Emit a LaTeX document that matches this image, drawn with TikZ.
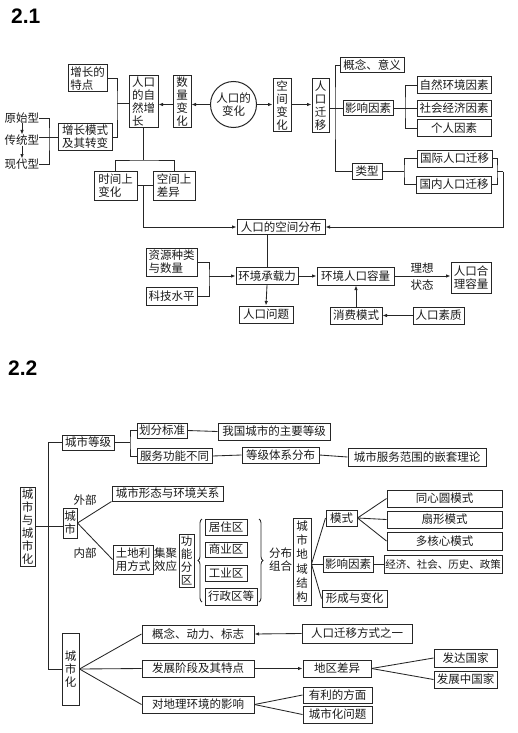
\documentclass[tikz,border=0pt]{standalone}
\usepackage{fontspec}
\newfontfamily\cjk{Noto Sans CJK SC}
\newfontfamily\titlef{Liberation Sans}
\usetikzlibrary{arrows.meta,decorations.pathreplacing,calc}
\tikzset{
  txt/.style={font=\cjk\fontsize{11.5}{13}\selectfont, inner sep=0pt, align=center, text=black!90},
  bx/.style={txt, draw=black!85, line width=1pt},
  b/.style 2 args={bx, minimum width=#1pt, minimum height=#2pt},
  vtw/.style={font=\cjk\fontsize{11.5}{14.3}\selectfont},
  ln/.style={draw=black!85, line width=0.85pt},
  arr/.style={ln, -{Latex[length=4.5pt,width=3.5pt]}},
  ttl/.style={font=\titlef\bfseries\fontsize{21}{23}\selectfont, inner sep=0pt, anchor=west},
  brc/.style={ln, decorate, decoration={brace, amplitude=4pt}}
}
\begin{document}
\begin{tikzpicture}[x=1pt,y=-1pt]
\useasboundingbox (0,0) rectangle (517,733);
% ================= 2.1 =================
\node[ttl] (t1) at (11,16) {2.1};
\node[txt] (ysx) at (22,118) {原始型};
\node[txt] (ctx) at (22,140) {传统型};
\node[txt] (xdx) at (22,164) {现代型};
\node[b={39}{27}, align=left] (zzd) at (87.5,78.5) {增长的\\特点};
\node[b={54}{27}, align=left] (zzms) at (85,137) {增长模式\\及其转变};
\node[b={29}{52}, align=left] (zrzz) at (143.5,102) {人口\\的自\\然增\\长};
\node[b={18}{52}] (slbh) at (182,102) {数\\量\\变\\化};
\node[bx, circle, minimum size=46pt] (circ) at (233.5,104.5) {人口的\\变化};
\node[b={18}{53}] (kjbh) at (282,105.5) {空\\间\\变\\化};
\node[b={17}{54}] (rkqy) at (320.5,106) {人\\口\\迁\\移};
\node[b={64}{15}] (gnyy) at (372,65.5) {概念、意义};
\node[b={50}{15}] (yxys) at (368,108.5) {影响因素};
\node[b={74}{17}] (zrhj) at (454,85.5) {自然环境因素};
\node[b={74}{16}] (shjj) at (454,108.5) {社会经济因素};
\node[b={74}{16}] (grys) at (454,128) {个人因素};
\node[b={30}{16}] (lx) at (367,171) {类型};
\node[b={75}{17}] (gjqy) at (454.5,158.5) {国际人口迁移};
\node[b={75}{17}] (gnqy) at (454,184.5) {国内人口迁移};
\node[b={43}{29}, align=left] (sjbh) at (115.5,185.5) {时间上\\变化};
\node[b={42}{29}, align=left] (kjcy) at (174,185.5) {空间上\\差异};
\node[b={88}{15}] (kjfb) at (281,227) {人口的空间分布};
\node[b={62}{17}] (hjcz) at (267,276) {环境承载力};
\node[b={51}{28}, align=left] (zyzl) at (171.5,262) {资源种类\\与数量};
\node[b={51}{18}] (kjsp) at (171.5,296) {科技水平};
\node[b={54}{17}] (rkwt) at (266,314.5) {人口问题};
\node[b={77}{18}] (hjrk) at (355.5,276) {环境人口容量};
\node[b={40}{31}, align=left] (hlrl) at (471,277.5) {人口合\\理容量};
\node[b={52}{17}] (xfms) at (356,315.5) {消费模式};
\node[b={51}{17}] (rksz) at (438.5,315.5) {人口素质};
\node[txt] (lxa) at (422,268) {理想};
\node[txt] (lxb) at (422,285) {状态};
% connectors 2.1
\draw[arr] (ysx.south) -- (ctx.north);
\draw[arr] (ctx.south) -- (xdx.north);
\coordinate (b1) at (49,137);
\draw[ln] (ysx.east) -| (b1) |- (xdx.east);
\draw[ln] (ctx.east |- b1) -- (zzms.west);
\coordinate (j1) at (117,103);
\draw[ln] (zzd.east) -| (j1) |- (zzms.east);
\draw[ln] (j1) -- (j1 -| zrzz.west);
\draw[arr] (circ.west) -- (circ.west -| slbh.east);
\draw[arr] (slbh.west |- circ.west) -- (zrzz.east |- circ.west);
\draw[arr] (circ.east) -- (circ.east -| kjbh.west);
\draw[arr] (kjbh.east |- circ.east) -- (rkqy.west |- circ.east);
\coordinate (j2) at (335,108.5);
\draw[ln] (rkqy.east |- yxys.west) -- (yxys.west);
\draw[ln] (gnyy.west) -| (j2) |- (lx.west);
\coordinate (j3) at (405,108.5);
\draw[ln] (zrhj.west) -| (j3) |- (grys.west);
\draw[ln] (yxys.east) -- (shjj.west);
\coordinate (j4) at (404,171);
\draw[ln] (lx.east) -- (j4);
\draw[ln] (gjqy.west) -| (j4) |- (gnqy.west);
\coordinate (j5) at (497,171.5);
\draw[ln] (gjqy.east) -| (j5) |- (gnqy.east);
\coordinate (j5b) at (503,171.5);
\draw[ln] (j5) -- (j5b);
\draw[arr] (j5b) |- (kjfb.east);
\coordinate (j6) at (143.5,160);
\draw[ln] (zrzz.south) -- (j6);
\draw[ln] (sjbh.north) |- (j6) -| (kjcy.north);
\draw[ln] (sjbh.east) -- (kjcy.west);
\draw[arr] (sjbh.east -| j6) |- (kjfb.west);
\draw[ln] (kjfb.south -| hjcz.north) -- (hjcz.north);
\coordinate (j7) at (209,276);
\draw[ln] (zyzl.east) -| (j7) |- (kjsp.east);
\draw[arr] (j7) -- (hjcz.west);
\draw[arr] (hjcz.south) -- (rkwt.north);
\draw[arr] (hjcz.east) -- (hjrk.west);
\draw[arr] (hjrk.east) -- (hlrl.west |- hjrk.east);
\draw[arr] (xfms.north) -- (xfms.north |- hjrk.south);
\draw[arr] (rksz.west) -- (xfms.east);
% ================= 2.2 =================
\node[ttl] (t2) at (8,368.5) {2.2};
\node[b={15}{79}] (cyc) at (27.5,526.5) {城\\市\\与\\城\\市\\化};
\node[b={52}{15}] (csdj) at (88,442.5) {城市等级};
\node[b={50}{15}] (hfbz) at (162,430.5) {划分标准};
\node[b={75}{15}] (fwgn) at (174.5,456) {服务功能不同};
\node[b={112}{17}] (wgcs) at (274,431.5) {我国城市的主要等级};
\node[b={77}{16}] (djtx) at (280.5,455) {等级体系分布};
\node[b={138}{18}] (qtll) at (417,457) {城市服务范围的嵌套理论};
\node[b={14}{30}] (cs) at (70,523) {城\\市};
\node[b={111}{15}] (csxt) at (167.5,493.5) {城市形态与环境关系};
\node[txt] (wb) at (85,500) {外部};
\node[txt] (nb) at (85,553) {内部};
\node[b={40}{29}] (tdly) at (133,559.5) {土地利\\用方式};
\node[txt] (jjxy) at (165.5,560) {集聚\\效应};
\node[b={15}{53}] (gnfq) at (186.5,560.5) {功\\能\\分\\区};
\node[b={42}{16}] (jzq) at (226,527) {居住区};
\node[b={42}{15}] (syq) at (226,549.5) {商业区};
\node[b={42}{16}] (gyq) at (226,573) {工业区};
\node[b={52}{17}] (xzq) at (231,596.5) {行政区等};
\node[txt] (fbzh) at (280.5,560) {分布\\组合};
\node[b={18}{87}, vtw] (dyjg) at (302,561.5) {城\\市\\地\\域\\结\\构};
\node[b={31}{16}] (ms) at (341.5,518) {模式};
\node[b={115}{17}] (txy) at (444.5,498.5) {同心圆模式};
\node[b={115}{17}] (sx) at (444.5,519.5) {扇形模式};
\node[b={115}{18}] (dhx) at (444.5,541) {多核心模式};
\node[b={50}{16}] (yxb) at (348,564) {影响因素};
\node[b={118}{18}, font=\cjk\fontsize{10.5}{12}\selectfont] (jjsh) at (443,564) {经济、社会、历史、政策};
\node[b={65}{17}] (xcbh) at (354.5,598.5) {形成与变化};
\node[b={17}{72}] (csh) at (70.5,669) {城\\市\\化};
\node[b={112}{18}] (gndl) at (198,634) {概念、动力、标志};
\node[b={112}{17}] (fzjd) at (198,668.5) {发展阶段及其特点};
\node[b={112}{17}] (dlhj) at (198,704.5) {对地理环境的影响};
\node[b={110}{19}] (rkfs) at (357,633.5) {人口迁移方式之一};
\node[b={68}{17}] (dqcy) at (337,668.5) {地区差异};
\node[b={63}{18}] (fdgj) at (465.5,658) {发达国家};
\node[b={63}{17}] (fzzg) at (465.5,679.5) {发展中国家};
\node[b={69}{16}] (ylfm) at (337.5,695) {有利的方面};
\node[b={69}{17}] (cshw) at (337.5,714.5) {城市化问题};
% connectors 2.2
\coordinate (k1) at (48,442.5);
\draw[ln] (csdj.west) -- (k1) |- (csh.west);
\draw[ln] (cyc.east) -- (cyc.east -| cs.west);
\coordinate (k2) at (130,442.5);
\draw[ln] (csdj.east) -- (k2);
\draw[ln] (hfbz.west) -| (k2) |- (fwgn.west);
\draw[ln] (hfbz.east) -- (wgcs.west);
\draw[ln] (fwgn.east) -- (djtx.west);
\draw[ln] (djtx.east) -- (qtll.west);
\draw[ln] (cs.east) -- (csxt.south west);
\draw[ln] (cs.east) -- (tdly.west);
\draw[brc] (202,602) -- (202,519);
\draw[brc] (259,519) -- (259,602);
\draw[ln] (dyjg.east |- yxb.west) -- (ms.west);
\draw[ln] (dyjg.east |- yxb.west) -- (yxb.west);
\draw[ln] (dyjg.east |- yxb.west) -- (xcbh.west);
\draw[ln] (ms.east) -- (txy.west);
\draw[ln] (ms.east) -- (sx.west);
\draw[ln] (ms.east) -- (dhx.west);
\draw[ln] (yxb.east) -- (jjsh.west);
\draw[ln] (csh.east) -- (gndl.west);
\draw[ln] (csh.east) -- (fzjd.west);
\draw[ln] (csh.east) -- (dlhj.west);
\draw[arr] (rkfs.west) -- (gndl.east);
\draw[arr] (fzjd.east) -- (dqcy.west);
\draw[ln] (dqcy.east) -- (fdgj.west);
\draw[ln] (dqcy.east) -- (fzzg.west);
\draw[ln] (dlhj.east) -- (ylfm.west);
\draw[ln] (dlhj.east) -- (cshw.west);
\end{tikzpicture}
\end{document}
